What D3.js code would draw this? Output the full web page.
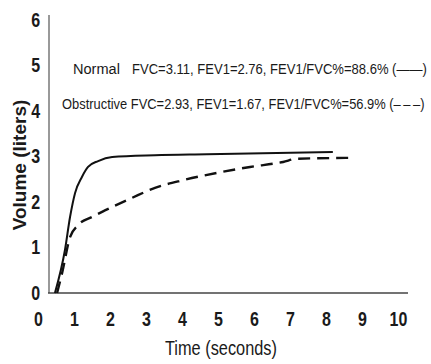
<!DOCTYPE html>
<html>
<head>
<meta charset="utf-8">
<script src="https://cdn.jsdelivr.net/npm/d3@7"></script>
<style>
  html, body { margin: 0; padding: 0; background: #fff; }
  svg { display: block; }
  .tick text { font-family: "Liberation Sans", Arial, sans-serif; font-weight: bold; font-size: 20px; fill: #1a1a1a; }
  .note { font-family: "Liberation Sans", Arial, sans-serif; font-size: 15.5px; fill: #1a1a1a; }
</style>
</head>
<body>
<svg id="chart" width="431" height="364"></svg>
<script>
// Spirometry volume-time curves
const xTicks = [0, 1, 2, 3, 4, 5, 6, 7, 8, 9, 10];
const yTicks = [0, 1, 2, 3, 4, 5, 6];

const normalTime   = [0.47, 0.75, 0.89, 1.03, 1.22, 1.39, 1.67, 2.06, 3.25, 4.69, 8.19];
const normalVolume = [0,    0.95, 1.67, 2.2,  2.55, 2.77, 2.9,  2.99, 3.03, 3.05, 3.1];

const obstructiveTime   = [0.53, 0.67, 0.89, 1.11, 1.5,  2.06, 2.61, 3.25, 4.03, 4.97, 5.89, 6.81, 7.19, 8.75];
const obstructiveVolume = [0,    0.44, 1.23, 1.49, 1.67, 1.89, 2.09, 2.31, 2.48, 2.64, 2.77, 2.88, 2.95, 2.97];

const noteLines = [
  "Normal",
  "Obstructive FVC=2.93, FEV1=1.67, FEV1/FVC%=56.9% (\u2013\u2009\u2013\u2009\u2013)"
];
const normalValues = "FVC=3.11, FEV1=2.76, FEV1/FVC%=88.6% (\u2014\u2014)";

const xLabel = "Time (seconds)";
const yLabel = "Volume (liters)";

const svg = d3.select("#chart");

const x = d3.scaleLinear().domain([0, 10]).range([38, 398]);
const y = d3.scaleLinear().domain([0, 6]).range([293, 20]);

// no narrow font installed, so squeeze the text horizontally
const NARROW = "scale(0.8,1)";

// place a text at (x0, y0) and squeeze it to a given width
function squeezed(sel, x0, y0, width) {
  const natural = sel.node().getComputedTextLength();
  sel.attr("transform", `translate(${x0},${y0}) scale(${width / natural},1)`);
  return sel;
}

// axis lines (the frame starts a little right of the "0" label)
svg.append("line")
  .attr("x1", 49).attr("x2", 49).attr("y1", 15).attr("y2", 293)
  .attr("stroke", "#555").attr("stroke-width", 1.2);
svg.append("line")
  .attr("x1", 48).attr("x2", 408).attr("y1", 293).attr("y2", 293)
  .attr("stroke", "#444").attr("stroke-width", 1.5);

const yAxis = svg.append("g")
  .attr("transform", "translate(49,0)")
  .call(d3.axisLeft(y).tickValues(yTicks).tickSize(0).tickPadding(11).tickFormat(d3.format("d")));
yAxis.select(".domain").remove();
yAxis.selectAll(".tick text").attr("transform", NARROW);

const xAxis = svg.append("g")
  .attr("transform", "translate(0,293)")
  .call(d3.axisBottom(x).tickValues(xTicks).tickSize(0).tickPadding(19).tickFormat(d3.format("d")));
xAxis.select(".domain").remove();
xAxis.selectAll(".tick text").attr("transform", NARROW);

squeezed(svg.append("text")
  .attr("font-family", "'Liberation Sans', Arial, sans-serif")
  .attr("font-size", 20)
  .attr("fill", "#1a1a1a")
  .text(xLabel), 165, 355, 112);

svg.append("text")
  .attr("transform", "translate(26,165) rotate(-90)")
  .attr("text-anchor", "middle")
  .attr("font-family", "'Liberation Sans', Arial, sans-serif")
  .attr("font-weight", "bold")
  .attr("font-size", 19)
  .attr("fill", "#1a1a1a")
  .text(yLabel);

// annotations
squeezed(svg.append("text").attr("class", "note").text(noteLines[0]), 73, 74, 47);
squeezed(svg.append("text").attr("class", "note").text(normalValues), 132, 74, 295);
squeezed(svg.append("text").attr("class", "note").text(noteLines[1]), 62, 109, 363);

const line = d3.line()
  .x((d) => x(d[0]))
  .y((d) => y(d[1]))
  .curve(d3.curveMonotoneX);

svg.append("path")
  .datum(d3.zip(normalTime, normalVolume))
  .attr("fill", "none")
  .attr("stroke", "#111")
  .attr("stroke-width", 2)
  .attr("d", line);

svg.append("path")
  .datum(d3.zip(obstructiveTime, obstructiveVolume))
  .attr("fill", "none")
  .attr("stroke", "#111")
  .attr("stroke-width", 2.4)
  .attr("stroke-dasharray", "12,7")
  .attr("d", line);
</script>
</body>
</html>
